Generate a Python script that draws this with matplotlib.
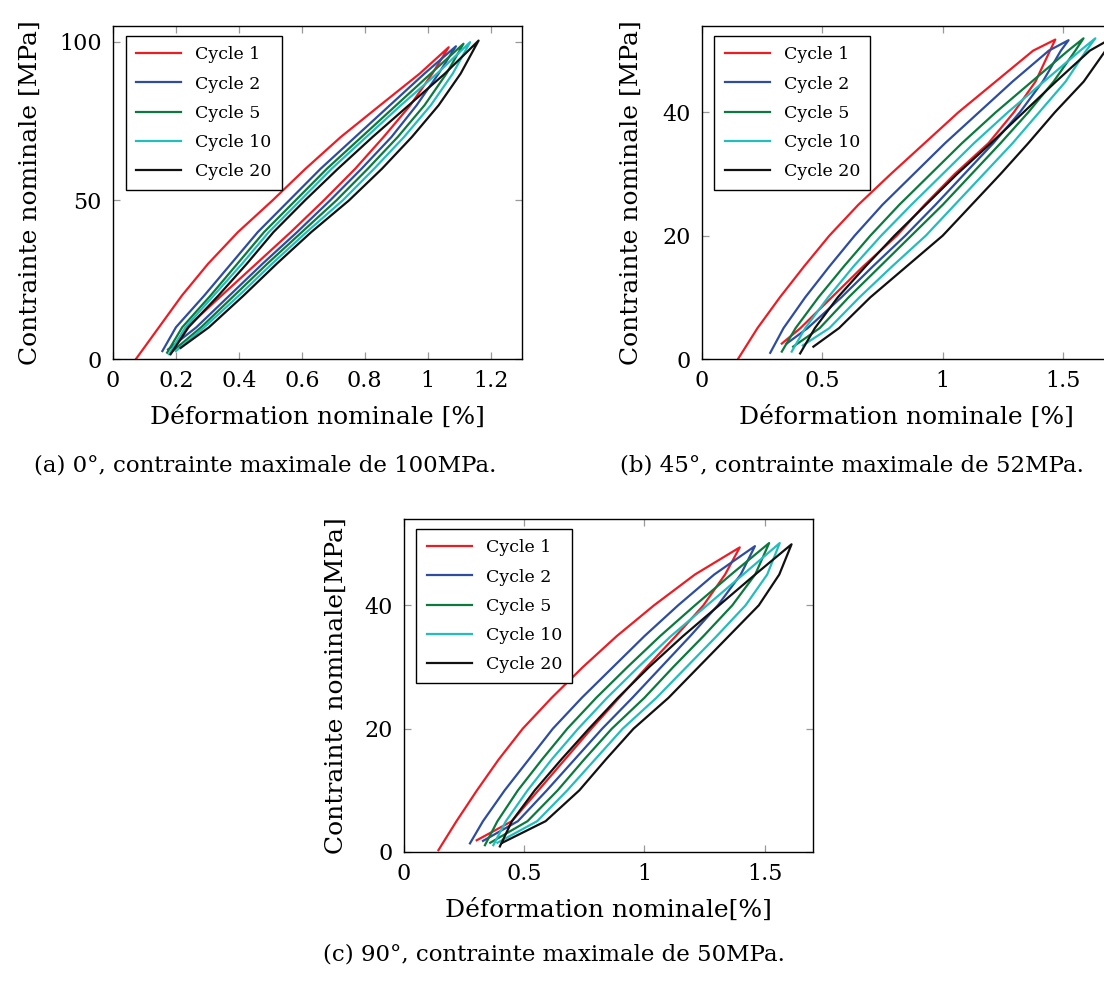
import matplotlib
matplotlib.use("Agg")
import matplotlib.pyplot as plt

plt.rcParams['font.family'] = ['DejaVu Serif']

cycles = ["Cycle 1", "Cycle 2", "Cycle 5", "Cycle 10", "Cycle 20"]
colors = ["#ED1C24", "#2E4D9F", "#0B7A3E", "#22BDBD", "#111111"]

# ---- (a) 0 deg, 100 MPa ----
a_levels = [10, 20, 30, 40, 50, 60, 70, 80, 90]
a_load = [
    [0.146, 0.219, 0.302, 0.397, 0.507, 0.612, 0.724, 0.849, 0.975],
    [0.20, 0.29, 0.375, 0.46, 0.56, 0.66, 0.77, 0.88, 0.99],
    [0.22, 0.31, 0.395, 0.48, 0.58, 0.68, 0.79, 0.90, 1.01],
    [0.23, 0.32, 0.41, 0.495, 0.595, 0.695, 0.805, 0.915, 1.03],
    [0.24, 0.335, 0.425, 0.51, 0.61, 0.715, 0.825, 0.94, 1.055],
]
a_unload = [
    [0.235, 0.345, 0.455, 0.565, 0.67, 0.77, 0.86, 0.945, 1.015],
    [0.265, 0.37, 0.475, 0.585, 0.69, 0.79, 0.885, 0.965, 1.035],
    [0.28, 0.385, 0.49, 0.60, 0.71, 0.81, 0.905, 0.99, 1.06],
    [0.29, 0.40, 0.505, 0.615, 0.73, 0.83, 0.925, 1.01, 1.08],
    [0.305, 0.415, 0.52, 0.63, 0.75, 0.855, 0.95, 1.035, 1.105],
]
a_start_x = [0.073, 0.157, 0.172, 0.178, 0.183]
a_start_y = [0.0, 2.5, 2.0, 1.5, 1.5]
a_peak_x = [1.067, 1.09, 1.114, 1.135, 1.162]
a_peak_y = [98.3, 98.6, 99.4, 99.9, 100.4]
a_end_x = [0.20, 0.175, 0.19, 0.20, 0.215]
a_end_y = [5.0, 3.0, 2.5, 2.5, 3.5]

# ---- (b) 45 deg, 52 MPa ----
b_levels = [5, 10, 15, 20, 25, 30, 35, 40, 45, 50]
b_load = [
    [0.232, 0.325, 0.425, 0.53, 0.65, 0.785, 0.925, 1.065, 1.22, 1.375],
    [0.34, 0.43, 0.53, 0.635, 0.75, 0.88, 1.01, 1.15, 1.29, 1.44],
    [0.39, 0.485, 0.59, 0.70, 0.82, 0.95, 1.08, 1.22, 1.37, 1.52],
    [0.43, 0.525, 0.63, 0.745, 0.87, 1.0, 1.13, 1.27, 1.42, 1.57],
    [0.47, 0.565, 0.68, 0.80, 0.93, 1.06, 1.2, 1.335, 1.47, 1.61],
]
b_unload = [
    [0.41, 0.54, 0.67, 0.81, 0.925, 1.05, 1.19, 1.295, 1.385, 1.445],
    [0.44, 0.58, 0.71, 0.845, 0.97, 1.09, 1.21, 1.32, 1.415, 1.49],
    [0.49, 0.61, 0.74, 0.87, 1.0, 1.12, 1.24, 1.355, 1.46, 1.55],
    [0.53, 0.655, 0.79, 0.93, 1.05, 1.17, 1.29, 1.40, 1.51, 1.595],
    [0.57, 0.70, 0.85, 1.0, 1.12, 1.24, 1.355, 1.465, 1.585, 1.675],
]
b_start_x = [0.153, 0.285, 0.333, 0.374, 0.409]
b_start_y = [0.1, 1.0, 1.2, 1.2, 0.9]
b_peak_x = [1.467, 1.522, 1.584, 1.633, 1.70]
b_peak_y = [51.8, 51.7, 52.0, 52.0, 52.0]
b_end_x = [0.333, 0.353, 0.38, 0.42, 0.464]
b_end_y = [2.5, 2.5, 2.0, 2.2, 2.0]

# ---- (c) 90 deg, 50 MPa ----
c_levels = [5, 10, 15, 20, 25, 30, 35, 40, 45]
c_load = [
    [0.22, 0.305, 0.395, 0.495, 0.615, 0.745, 0.885, 1.04, 1.21],
    [0.33, 0.42, 0.52, 0.62, 0.74, 0.87, 1.0, 1.14, 1.29],
    [0.39, 0.475, 0.575, 0.68, 0.80, 0.93, 1.065, 1.21, 1.36],
    [0.425, 0.515, 0.615, 0.725, 0.845, 0.975, 1.11, 1.26, 1.41],
    [0.45, 0.545, 0.655, 0.77, 0.89, 1.02, 1.16, 1.31, 1.46],
]
c_unload = [
    [0.45, 0.56, 0.67, 0.78, 0.895, 1.01, 1.13, 1.245, 1.335],
    [0.475, 0.595, 0.71, 0.825, 0.95, 1.07, 1.19, 1.305, 1.40],
    [0.515, 0.64, 0.75, 0.865, 1.0, 1.12, 1.245, 1.365, 1.46],
    [0.555, 0.68, 0.795, 0.91, 1.05, 1.175, 1.30, 1.42, 1.51],
    [0.59, 0.73, 0.84, 0.955, 1.10, 1.225, 1.35, 1.475, 1.56],
]
c_start_x = [0.145, 0.276, 0.338, 0.373, 0.40]
c_start_y = [0.3, 1.4, 1.1, 1.1, 0.9]
c_peak_x = [1.396, 1.459, 1.518, 1.562, 1.611]
c_peak_y = [49.4, 49.6, 50.1, 50.1, 49.9]
c_end_x = [0.304, 0.33, 0.36, 0.39, 0.41]
c_end_y = [1.9, 1.8, 1.5, 1.5, 1.5]

W, H = 1104, 981
fig = plt.figure(figsize=(W / 100, H / 100), dpi=100)


def box(left, top, right, bottom):
    return [left / W, 1 - bottom / H, (right - left) / W, (bottom - top) / H]


def draw(ax, levels, load, unload, sx, sy, px, py, ex, ey):
    for i in range(len(cycles)):
        xs = [sx[i]] + load[i] + [px[i]] + unload[i][::-1] + [ex[i]]
        ys = [sy[i]] + levels + [py[i]] + levels[::-1] + [ey[i]]
        ax.plot(xs, ys, color=colors[i], lw=1.6, label=cycles[i])
    ax.tick_params(direction='in', top=True, right=True, length=5,
                   width=0.9, color='#999999', labelsize=16, pad=8)
    for s in ax.spines.values():
        s.set_linewidth(1.0)
    ax.legend(loc='upper left', bbox_to_anchor=(0.031, 0.97), borderaxespad=0,
              fancybox=False, edgecolor='black', framealpha=1, fontsize=12.5,
              handlelength=2.6, labelspacing=0.7, borderpad=0.6)


ax1 = fig.add_axes(box(113, 26, 522, 359))
draw(ax1, a_levels, a_load, a_unload, a_start_x, a_start_y,
     a_peak_x, a_peak_y, a_end_x, a_end_y)
ax1.set_xlim(0, 1.3)
ax1.set_ylim(0, 105)
ax1.set_xticks([0, 0.2, 0.4, 0.6, 0.8, 1.0, 1.2])
ax1.set_xticklabels(["0", "0.2", "0.4", "0.6", "0.8", "1", "1.2"])
ax1.set_yticks([0, 50, 100])
ax1.set_xlabel("Déformation nominale [%]", fontsize=18)
ax1.set_ylabel("Contrainte nominale [MPa]", fontsize=18)
ax1.xaxis.set_label_coords(0.5, -0.14)
ax1.yaxis.set_label_coords(-0.175, 0.5)

ax2 = fig.add_axes(box(701.5, 26, 1111.5, 359))
draw(ax2, b_levels, b_load, b_unload, b_start_x, b_start_y,
     b_peak_x, b_peak_y, b_end_x, b_end_y)
ax2.set_xlim(0, 1.7)
ax2.set_ylim(0, 54)
ax2.set_xticks([0, 0.5, 1, 1.5])
ax2.set_xticklabels(["0", "0.5", "1", "1.5"])
ax2.set_yticks([0, 20, 40])
ax2.set_xlabel("Déformation nominale [%]", fontsize=18)
ax2.set_ylabel("Contrainte nominale [MPa]", fontsize=18)
ax2.xaxis.set_label_coords(0.5, -0.14)
ax2.yaxis.set_label_coords(-0.142, 0.5)

ax3 = fig.add_axes(box(403.5, 519, 813, 852))
draw(ax3, c_levels, c_load, c_unload, c_start_x, c_start_y,
     c_peak_x, c_peak_y, c_end_x, c_end_y)
ax3.set_xlim(0, 1.7)
ax3.set_ylim(0, 54)
ax3.set_xticks([0, 0.5, 1, 1.5])
ax3.set_xticklabels(["0", "0.5", "1", "1.5"])
ax3.set_yticks([0, 20, 40])
ax3.set_xlabel("Déformation nominale[%]", fontsize=18)
ax3.set_ylabel("Contrainte nominale[MPa]", fontsize=18)
ax3.xaxis.set_label_coords(0.5, -0.14)
ax3.yaxis.set_label_coords(-0.135, 0.5)

fig.text(265 / W, 1 - 466 / H, "(a) 0°, contrainte maximale de 100MPa.",
         ha='center', va='center', fontsize=16.5)
fig.text(852 / W, 1 - 466 / H, "(b) 45°, contrainte maximale de 52MPa.",
         ha='center', va='center', fontsize=16.5)
fig.text(554 / W, 1 - 955 / H, "(c) 90°, contrainte maximale de 50MPa.",
         ha='center', va='center', fontsize=16.5)

fig.savefig("out.png", dpi=100)
